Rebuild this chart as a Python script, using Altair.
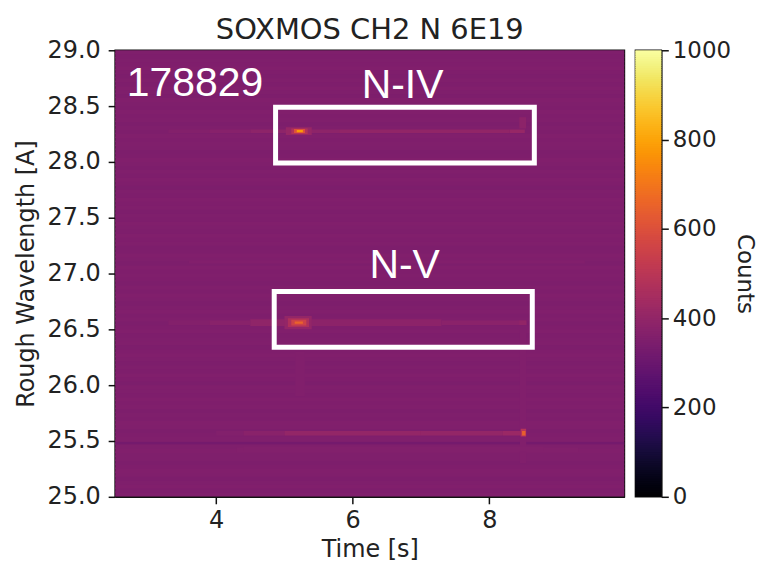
import altair as alt
import pandas as pd

FONT = "DejaVu Sans"

# background level of each wavelength row, from 25.0 upward (hand-read banding)
row_counts = [
    352, 348, 354, 350, 346, 352, 355, 349, 345, 350, 351, 354,
    350, 347, 353, 349, 345, 352, 355, 348, 351, 345, 353, 349,
    354, 347, 350, 352, 344, 349, 354, 347, 351, 346, 351, 355,
    349, 345, 353, 350, 347, 354, 349, 345, 352, 348, 354, 351,
    346, 350, 354, 348, 352, 345, 349, 353, 349, 354, 346, 351,
    355, 348, 345, 352, 349, 354, 347, 351, 355, 348, 350, 345,
    353, 349, 354, 347, 351, 344, 349, 354, 348, 352, 346, 351,
    355, 348, 345, 350, 353, 349, 354, 347, 351, 345, 352, 349,
    354, 348, 351, 355, 346, 350, 354, 348, 352, 345, 349, 354,
    349, 351, 347, 351,
]
row_step = 4.0 / 112
row_overlap = 0.012
x_min, x_max = 2.52, 9.98

# spectral features: start time, end time, low wavelength, high wavelength, counts
feature_t0 = [3.6, 2.52, 4.3, 8.45, 5.16,
              3.30, 3.90, 4.50, 5.80, 8.30, 8.44,
              5.02, 5.10, 5.14, 5.18,
              3.30, 3.90, 4.50, 5.40, 7.30,
              5.00, 5.05, 5.10, 5.15, 8.44,
              4.00, 4.40, 5.00, 7.00, 8.20, 8.46, 8.48, 4.40]
feature_t1 = [9.4, 9.98, 9.3, 8.54, 5.30,
              3.90, 4.50, 5.80, 8.30, 8.52, 8.54,
              5.40, 5.34, 5.30, 5.27,
              3.90, 4.50, 5.40, 7.30, 8.55,
              5.40, 5.36, 5.32, 5.27, 8.54,
              4.40, 5.00, 7.00, 8.20, 8.46, 8.54, 8.53, 8.80]
feature_w0 = [27.09, 25.47, 25.40, 25.30, 25.90,
              28.26, 28.26, 28.26, 28.26, 28.26, 28.30,
              28.24, 28.25, 28.26, 28.265,
              26.54, 26.54, 26.53, 26.53, 26.54,
              26.50, 26.52, 26.535, 26.55, 26.54,
              25.55, 25.55, 25.55, 25.55, 25.55, 25.54, 25.55, 25.41]
feature_w1 = [27.12, 25.49, 25.44, 26.50, 26.30,
              28.29, 28.29, 28.29, 28.29, 28.29, 28.40,
              28.31, 28.30, 28.295, 28.285,
              26.58, 26.58, 26.59, 26.59, 26.58,
              26.62, 26.60, 26.585, 26.57, 26.58,
              25.59, 25.59, 25.59, 25.59, 25.59, 25.61, 25.59, 25.45]
feature_counts = [356, 322, 357, 354, 355,
                  359, 368, 384, 396, 408, 381,
                  406, 476, 606, 780,
                  359, 371, 391, 381, 376,
                  401, 466, 551, 650, 396,
                  358, 374, 401, 401, 416, 491, 640, 358]

# annotation boxes
box_t0 = [4.87, 4.85]
box_t1 = [8.66, 8.63]
box_w0 = [27.99, 26.34]
box_w1 = [28.49, 26.84]

# white annotations
note_text = ["178829", "N-IV", "N-V"]
note_t = [3.69, 6.73, 6.76]
note_w = [28.70, 28.68, 27.07]

bar_levels = list(range(0, 1000, 5))
bar_step = 8

x_ticks = [4, 6, 8]
y_ticks = [25.0, 25.5, 26.0, 26.5, 27.0, 27.5, 28.0, 28.5, 29.0]
bar_ticks = [0, 200, 400, 600, 800, 1000]

rows = pd.DataFrame({
    "t0": x_min, "t1": x_max,
    "w0": [25 + i * row_step for i in range(len(row_counts))],
    "w1": [25 + (i + 1) * row_step + row_overlap for i in range(len(row_counts))],
    "counts": row_counts,
})
features = pd.DataFrame({"t0": feature_t0, "t1": feature_t1, "w0": feature_w0,
                         "w1": feature_w1, "counts": feature_counts})
cells = pd.concat([rows, features], ignore_index=True)
cells["order"] = range(len(cells))

color = alt.Color("counts:Q",
                  scale=alt.Scale(scheme="inferno", domain=[0, 1000], clamp=True),
                  legend=None)
common = dict(grid=False, labelFontSize=24, titleFontSize=24, tickSize=7, tickWidth=1.5,
              domainWidth=1.5, tickColor="#111111", domainColor="#111111",
              labelColor="#222222", titleColor="#222222", labelFont=FONT, titleFont=FONT,
              titleFontWeight="normal")
x_axis = alt.Axis(values=x_ticks, format="d", title="Time [s]", titlePadding=5, labelPadding=5,
                  **common)
y_axis = alt.Axis(values=y_ticks, format=".1f", title="Rough Wavelength [A]", titlePadding=8,
                  labelPadding=8, **common)
xs = alt.Scale(domain=[x_min, x_max], nice=False, zero=False)
ys = alt.Scale(domain=[25, 29], nice=False, zero=False)

heat = alt.Chart(cells).mark_rect(strokeWidth=0, clip=True).encode(
    x=alt.X("t0:Q", scale=xs, axis=x_axis),
    x2="t1:Q",
    y=alt.Y("w0:Q", scale=ys, axis=y_axis),
    y2="w1:Q",
    color=color,
    order="order:Q",
)
boxes = alt.Chart(pd.DataFrame({"t0": box_t0, "t1": box_t1, "w0": box_w0, "w1": box_w1})).mark_rect(
    fillOpacity=0, stroke="white", strokeWidth=5
).encode(x=alt.X("t0:Q", scale=xs), x2="t1:Q", y=alt.Y("w0:Q", scale=ys), y2="w1:Q")
notes = alt.Chart(pd.DataFrame({"t": note_t, "w": note_w, "label": note_text})).mark_text(
    font="Liberation Sans", fontSize=41, color="white", align="center", baseline="middle"
).encode(x=alt.X("t:Q", scale=xs), y=alt.Y("w:Q", scale=ys), text="label:N")

main = alt.layer(heat, boxes, notes).properties(
    width=511, height=448,
    title=alt.TitleParams("SOXMOS CH2 N 6E19", font=FONT, fontSize=29, fontWeight="normal",
                          color="#222222", offset=-7, anchor="middle"),
)

bar_common = dict(common)
bar_common.update(labelFontSize=23, titleFontSize=23)
bar_df = pd.DataFrame({"counts": bar_levels, "top": [min(v + bar_step, 1000) for v in bar_levels],
                       "a": 0, "b": 1})
bar = alt.Chart(bar_df).mark_rect(strokeWidth=0).encode(
    x=alt.X("a:Q", scale=alt.Scale(domain=[0, 1]), axis=None),
    x2="b:Q",
    y=alt.Y("counts:Q", scale=alt.Scale(domain=[0, 1000], nice=False),
            axis=alt.Axis(orient="right", values=bar_ticks, format="d", title="Counts",
                          titlePadding=2, labelPadding=4, **bar_common)),
    y2="top:Q",
    color=color,
    order="counts:Q",
).properties(width=26, height=448)

chart = alt.hconcat(main, bar, spacing=9).resolve_scale(color="shared").configure_view(
    stroke="#111111", strokeWidth=1.5
).properties(padding={"left": 5.5, "top": 6.5, "right": 2, "bottom": 0}, background="white")

chart.save("out.html", embed_options={"renderer": "svg", "actions": False})
